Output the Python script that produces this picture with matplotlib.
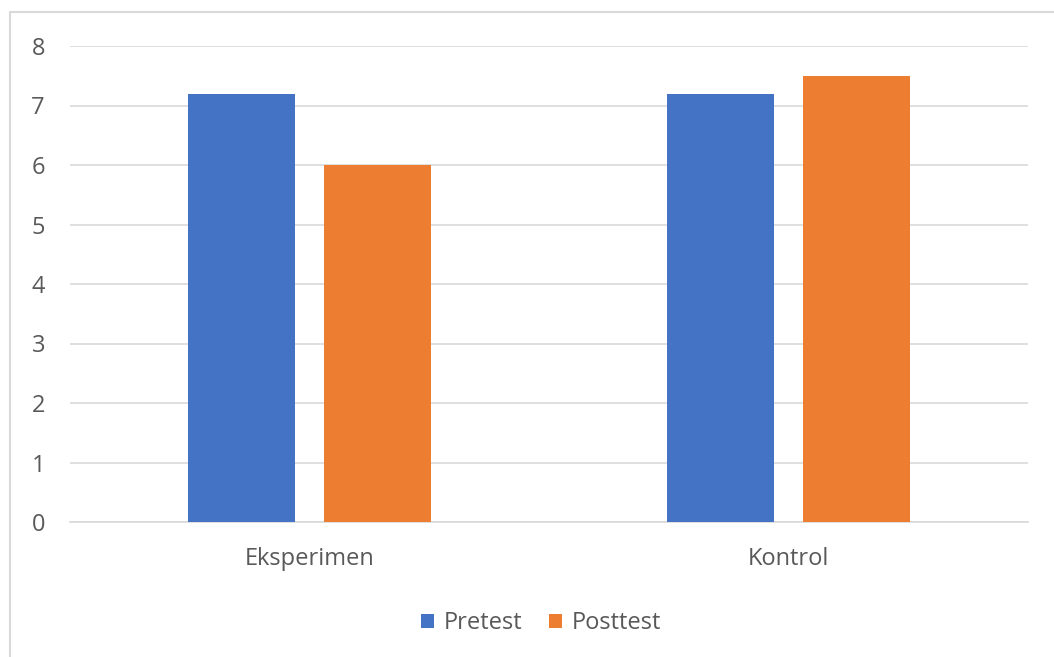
import matplotlib
matplotlib.use("Agg")
import matplotlib.pyplot as plt
from matplotlib.patches import Rectangle
import numpy as np

categories = ["Eksperimen", "Kontrol"]
series_names = ["Pretest", "Posttest"]
pretest = [7.2, 7.2]
posttest = [6.0, 7.5]
yticks = [0, 1, 2, 3, 4, 5, 6, 7, 8]

colors = ["#4472C4", "#ED7D31"]
text_color = "#595959"
plt.rcParams['font.family'] = ['Open Sans', 'DejaVu Sans']

fig = plt.figure(figsize=(10.54, 6.57), dpi=100)
fig.patches.append(Rectangle((10/1054, -0.1), 1.2, 1 - 12/657 + 0.1,
                             transform=fig.transFigure, fill=False,
                             edgecolor="#d9d9d9", linewidth=1.5))
ax = fig.add_axes([70/1054, 1 - 522/657, 958/1054, (522 - 46)/657])

x = np.arange(len(categories)) + 0.5
w = 0.2234
off = 0.142
ax.bar(x - off, pretest, w, color=colors[0], label=series_names[0], zorder=3)
ax.bar(x + off, posttest, w, color=colors[1], label=series_names[1], zorder=3)

ax.set_xlim(0, 2)
ax.set_ylim(0, 8)
ax.set_yticks(yticks)
ax.set_xticks(x)
ax.set_xticklabels(categories)
ax.yaxis.grid(True, color="#d9d9d9", linewidth=1.2, zorder=0)
for s in ["top", "right", "left"]:
    ax.spines[s].set_visible(False)
ax.spines["bottom"].set_color("#d9d9d9")
ax.spines["bottom"].set_linewidth(1.2)
ax.tick_params(axis="both", length=0, colors=text_color, labelsize=17)
ax.tick_params(axis="y", pad=18)
ax.tick_params(axis="x", pad=18)

leg = fig.legend(loc="center", bbox_to_anchor=(541/1054, 1 - 623/657), ncol=2,
                 frameon=False, fontsize=17, handlelength=0.55, handleheight=0.55,
                 columnspacing=1.15, handletextpad=0.42)
for t in leg.get_texts():
    t.set_color(text_color)

fig.savefig("out.png", dpi=100)
